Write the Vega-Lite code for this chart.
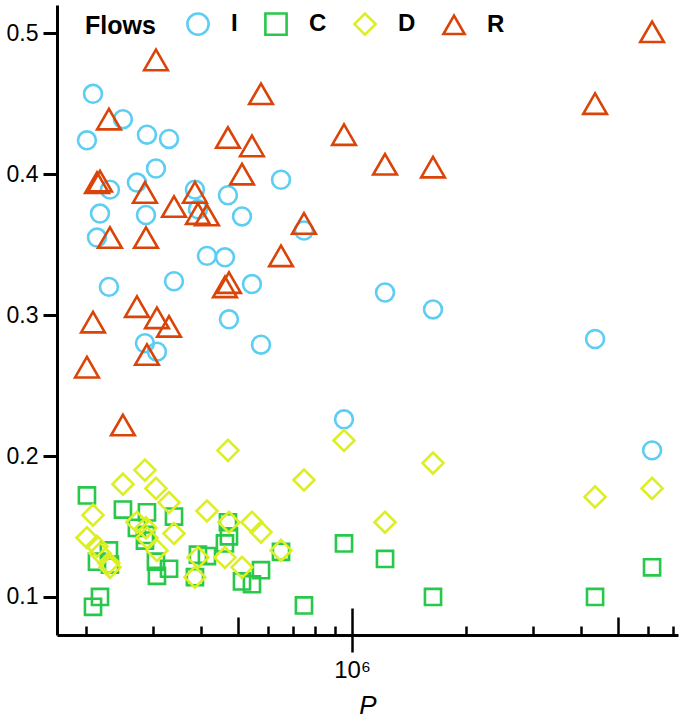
{
  "$schema": "https://vega.github.io/schema/vega-lite/v6.json",
  "width": 621,
  "height": 630,
  "autosize": {"type": "none"},
  "padding": {"left": 57, "top": 5, "right": 7, "bottom": 85},
  "config": {
    "view": {"stroke": null},
    "font": "Liberation Sans",
    "axis": {"domainColor": "black", "domainWidth": 3, "tickColor": "black", "labelColor": "black", "titleColor": "black", "grid": false, "labelFont": "Liberation Sans", "titleFont": "Liberation Sans"}
  },
  "data": {
    "values": [
      {"P": 200700, "Flow": "I", "v": 0.424},
      {"P": 208200, "Flow": "I", "v": 0.457},
      {"P": 213300, "Flow": "I", "v": 0.355},
      {"P": 217200, "Flow": "I", "v": 0.372},
      {"P": 229300, "Flow": "I", "v": 0.320},
      {"P": 230700, "Flow": "I", "v": 0.389},
      {"P": 249600, "Flow": "I", "v": 0.439},
      {"P": 271700, "Flow": "I", "v": 0.394},
      {"P": 285200, "Flow": "I", "v": 0.280},
      {"P": 287000, "Flow": "I", "v": 0.371},
      {"P": 288700, "Flow": "I", "v": 0.428},
      {"P": 304900, "Flow": "I", "v": 0.404},
      {"P": 306700, "Flow": "I", "v": 0.274},
      {"P": 330000, "Flow": "I", "v": 0.425},
      {"P": 340100, "Flow": "I", "v": 0.324},
      {"P": 386100, "Flow": "I", "v": 0.389},
      {"P": 393200, "Flow": "I", "v": 0.375},
      {"P": 415300, "Flow": "I", "v": 0.342},
      {"P": 463100, "Flow": "I", "v": 0.341},
      {"P": 471600, "Flow": "I", "v": 0.385},
      {"P": 474500, "Flow": "I", "v": 0.297},
      {"P": 513500, "Flow": "I", "v": 0.370},
      {"P": 545400, "Flow": "I", "v": 0.322},
      {"P": 576100, "Flow": "I", "v": 0.279},
      {"P": 650400, "Flow": "I", "v": 0.396},
      {"P": 747500, "Flow": "I", "v": 0.360},
      {"P": 952700, "Flow": "I", "v": 0.226},
      {"P": 1221500, "Flow": "I", "v": 0.316},
      {"P": 1633600, "Flow": "I", "v": 0.304},
      {"P": 4360900, "Flow": "I", "v": 0.283},
      {"P": 6160300, "Flow": "I", "v": 0.204},
      {"P": 200700, "Flow": "C", "v": 0.172},
      {"P": 208200, "Flow": "C", "v": 0.093},
      {"P": 213300, "Flow": "C", "v": 0.125},
      {"P": 217200, "Flow": "C", "v": 0.100},
      {"P": 229300, "Flow": "C", "v": 0.133},
      {"P": 230700, "Flow": "C", "v": 0.123},
      {"P": 249600, "Flow": "C", "v": 0.162},
      {"P": 271700, "Flow": "C", "v": 0.149},
      {"P": 285200, "Flow": "C", "v": 0.140},
      {"P": 287000, "Flow": "C", "v": 0.144},
      {"P": 288700, "Flow": "C", "v": 0.160},
      {"P": 304900, "Flow": "C", "v": 0.125},
      {"P": 306700, "Flow": "C", "v": 0.115},
      {"P": 330000, "Flow": "C", "v": 0.120},
      {"P": 340100, "Flow": "C", "v": 0.157},
      {"P": 386100, "Flow": "C", "v": 0.114},
      {"P": 393200, "Flow": "C", "v": 0.130},
      {"P": 415300, "Flow": "C", "v": 0.129},
      {"P": 463100, "Flow": "C", "v": 0.138},
      {"P": 471600, "Flow": "C", "v": 0.153},
      {"P": 474500, "Flow": "C", "v": 0.143},
      {"P": 513500, "Flow": "C", "v": 0.111},
      {"P": 545400, "Flow": "C", "v": 0.109},
      {"P": 576100, "Flow": "C", "v": 0.119},
      {"P": 650400, "Flow": "C", "v": 0.132},
      {"P": 747500, "Flow": "C", "v": 0.094},
      {"P": 952700, "Flow": "C", "v": 0.138},
      {"P": 1221500, "Flow": "C", "v": 0.127},
      {"P": 1633600, "Flow": "C", "v": 0.100},
      {"P": 4360900, "Flow": "C", "v": 0.100},
      {"P": 6160300, "Flow": "C", "v": 0.121},
      {"P": 200700, "Flow": "D", "v": 0.142},
      {"P": 208200, "Flow": "D", "v": 0.158},
      {"P": 213300, "Flow": "D", "v": 0.136},
      {"P": 217200, "Flow": "D", "v": 0.131},
      {"P": 229300, "Flow": "D", "v": 0.124},
      {"P": 230700, "Flow": "D", "v": 0.121},
      {"P": 249600, "Flow": "D", "v": 0.180},
      {"P": 271700, "Flow": "D", "v": 0.153},
      {"P": 285200, "Flow": "D", "v": 0.190},
      {"P": 287000, "Flow": "D", "v": 0.149},
      {"P": 288700, "Flow": "D", "v": 0.142},
      {"P": 304900, "Flow": "D", "v": 0.177},
      {"P": 306700, "Flow": "D", "v": 0.133},
      {"P": 330000, "Flow": "D", "v": 0.167},
      {"P": 340100, "Flow": "D", "v": 0.145},
      {"P": 386100, "Flow": "D", "v": 0.114},
      {"P": 393200, "Flow": "D", "v": 0.128},
      {"P": 415300, "Flow": "D", "v": 0.161},
      {"P": 463100, "Flow": "D", "v": 0.128},
      {"P": 471600, "Flow": "D", "v": 0.204},
      {"P": 474500, "Flow": "D", "v": 0.153},
      {"P": 513500, "Flow": "D", "v": 0.121},
      {"P": 545400, "Flow": "D", "v": 0.153},
      {"P": 576100, "Flow": "D", "v": 0.146},
      {"P": 650400, "Flow": "D", "v": 0.133},
      {"P": 747500, "Flow": "D", "v": 0.183},
      {"P": 952700, "Flow": "D", "v": 0.211},
      {"P": 1221500, "Flow": "D", "v": 0.153},
      {"P": 1633600, "Flow": "D", "v": 0.195},
      {"P": 4360900, "Flow": "D", "v": 0.171},
      {"P": 6160300, "Flow": "D", "v": 0.177},
      {"P": 200700, "Flow": "R", "v": 0.263},
      {"P": 208200, "Flow": "R", "v": 0.295},
      {"P": 213300, "Flow": "R", "v": 0.394},
      {"P": 217200, "Flow": "R", "v": 0.395},
      {"P": 229300, "Flow": "R", "v": 0.439},
      {"P": 230700, "Flow": "R", "v": 0.355},
      {"P": 249600, "Flow": "R", "v": 0.222},
      {"P": 271700, "Flow": "R", "v": 0.306},
      {"P": 285200, "Flow": "R", "v": 0.387},
      {"P": 287000, "Flow": "R", "v": 0.355},
      {"P": 288700, "Flow": "R", "v": 0.272},
      {"P": 304900, "Flow": "R", "v": 0.481},
      {"P": 306700, "Flow": "R", "v": 0.298},
      {"P": 330000, "Flow": "R", "v": 0.292},
      {"P": 340100, "Flow": "R", "v": 0.377},
      {"P": 386100, "Flow": "R", "v": 0.387},
      {"P": 393200, "Flow": "R", "v": 0.372},
      {"P": 415300, "Flow": "R", "v": 0.371},
      {"P": 463100, "Flow": "R", "v": 0.320},
      {"P": 471600, "Flow": "R", "v": 0.426},
      {"P": 474500, "Flow": "R", "v": 0.323},
      {"P": 513500, "Flow": "R", "v": 0.400},
      {"P": 545400, "Flow": "R", "v": 0.420},
      {"P": 576100, "Flow": "R", "v": 0.457},
      {"P": 650400, "Flow": "R", "v": 0.342},
      {"P": 747500, "Flow": "R", "v": 0.365},
      {"P": 952700, "Flow": "R", "v": 0.428},
      {"P": 1221500, "Flow": "R", "v": 0.407},
      {"P": 1633600, "Flow": "R", "v": 0.405},
      {"P": 4360900, "Flow": "R", "v": 0.450},
      {"P": 6160300, "Flow": "R", "v": 0.501}
    ]
  },
  "layer": [
    {
      "mark": {"type": "point", "filled": false, "opacity": 1, "strokeWidth": 2.6},
      "encoding": {
        "x": {
          "field": "P", "type": "quantitative",
          "scale": {"type": "log", "domain": [167400, 7208000], "nice": false, "zero": false},
          "axis": {
            "orient": "bottom",
            "values": [200000, 300000, 400000, 500000, 600000, 700000, 800000, 900000, 1000000, 2000000, 3000000, 4000000, 5000000, 6000000, 7000000],
            "labels": false,
            "title": null,
            "tickWidth": 2.5,
            "tickSize": {"expr": "datum.value == 1000000 ? -27 : ((datum.value == 500000 || datum.value == 5000000) ? -18 : -9)"}
          }
        },
        "y": {
          "field": "v", "type": "quantitative",
          "scale": {"domain": [0.073, 0.52], "nice": false, "zero": false},
          "axis": {
            "values": [0.1, 0.2, 0.3, 0.4, 0.5],
            "format": ".1f",
            "title": null,
            "tickSize": 14,
            "tickWidth": 3,
            "labelFontSize": 23,
            "labelPadding": 5
          }
        },
        "color": {
          "field": "Flow", "type": "nominal",
          "scale": {"domain": ["I", "C", "D", "R"], "range": ["#5ccdf3", "#28c84a", "#dbef24", "#da4408"]},
          "legend": {
            "orient": "none", "legendX": 28, "legendY": 7, "direction": "horizontal",
            "values": ["I", "C", "D", "R"],
            "title": "Flows", "titleOrient": "left", "titleFontSize": 25, "titleFontWeight": "bold", "titleColor": "black", "titlePadding": 30, "titleBaseline": "middle",
            "labelFontSize": 24, "labelFontWeight": "bold", "labelColor": "black", "labelOffset": 21, "columnPadding": 22,
            "symbolSize": 450, "symbolStrokeWidth": 2.6
          }
        },
        "shape": {
          "field": "Flow", "type": "nominal",
          "scale": {"domain": ["I", "C", "D", "R"], "range": ["circle", "square", "diamond", "triangle-up"]}
        },
        "size": {
          "field": "Flow", "type": "nominal",
          "scale": {"type": "point", "domain": ["C", "I", "_a", "D", "_b", "R"], "range": [260, 560], "padding": 0},
          "legend": null
        }
      }
    },
    {
      "transform": [{"filter": "datum.P < 0"}],
      "mark": {"type": "point"},
      "encoding": {
        "x": {
          "field": "P", "type": "quantitative",
          "scale": {"type": "log", "domain": [167400, 7208000], "nice": false, "zero": false},
          "axis": {
            "orient": "bottom",
            "values": [1000000],
            "domain": false,
            "tickWidth": 2.5,
            "tickSize": 17,
            "labelExpr": "'10⁶'",
            "labelFontSize": 24,
            "labelPadding": 6,
            "title": "P",
            "titleFontStyle": "italic",
            "titleFontWeight": "normal",
            "titleFontSize": 26,
            "titlePadding": 10
          }
        },
        "y": {"field": "v", "type": "quantitative"}
      }
    }
  ],
  "resolve": {"axis": {"x": "independent"}}
}
